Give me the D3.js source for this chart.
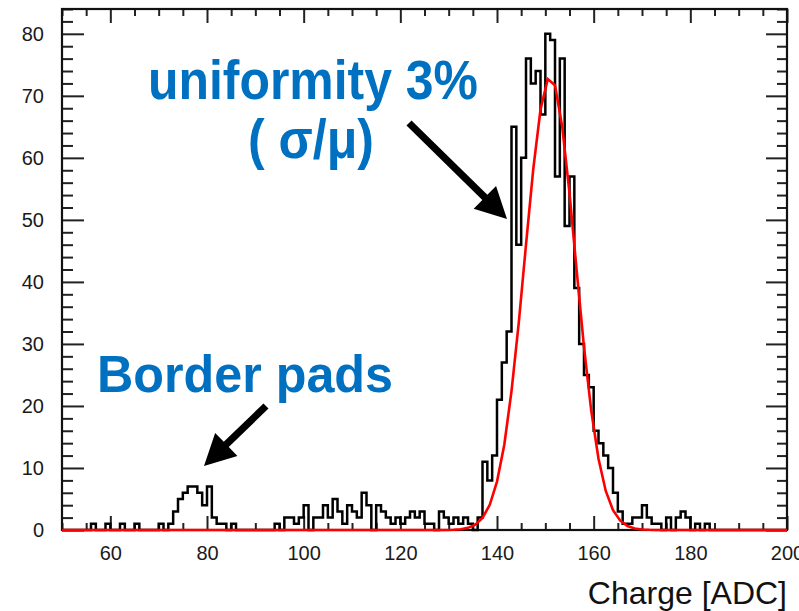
<!DOCTYPE html>
<html>
<head>
<meta charset="utf-8">
<script src="https://cdn.jsdelivr.net/npm/d3@7"></script>
<style>
  body { margin: 0; background: #fff; }
  svg { display: block; font-family: "Liberation Sans", Arial, Helvetica, sans-serif; }
</style>
</head>
<body>
<svg width="799" height="611"></svg>
<script>
// histogram, 1 ADC wide bins, first bin starts at 50
const binStart = 50;
const counts = [
  0, 0, 0, 0, 0, 0, 1, 0, 0, 1,          // 50-59
  0, 0, 1, 0, 0, 1, 0, 0, 0, 0,          // 60-69
  1, 0, 1, 3, 5, 6, 7, 7, 6, 4,          // 70-79
  7, 2, 1, 1, 0, 1, 0, 0, 0, 0,          // 80-89
  0, 0, 0, 0, 1, 0, 2, 2, 1, 2,          // 90-99
  4, 0, 2, 2, 4, 2, 5, 3, 1, 4,          // 100-109
  3, 2, 6, 4, 0, 4, 3, 2, 1, 2,          // 110-119
  1, 2, 3, 2, 3, 1, 1, 0, 3, 2,          // 120-129
  1, 2, 1, 2, 1, 0, 2, 11, 8, 12,        // 130-139
  21, 27, 32, 65, 46, 60, 76, 72, 74, 67, // 140-149
  80, 79, 57, 76, 49, 57, 39, 30, 25, 23, // 150-159
  16, 14, 12, 10, 6, 3, 1, 1, 2, 2,      // 160-169
  4, 2, 1, 1, 0, 2, 0, 2, 3, 2,          // 170-179
  0, 1, 0, 1, 0, 0, 0, 0, 0, 0,          // 180-189
  0, 0, 0, 0, 0, 0, 0, 0, 0, 0           // 190-199
];

// gaussian fit curve as drawn (red)
const fitX = [50, 128, 129.5, 131, 132.5, 134, 135.5, 137, 138.5, 140, 141.5, 143, 144.5, 146, 147.5,
  149, 150.5, 152, 153.5, 155, 156.5, 158, 159.5, 161, 162.5, 164, 165.5, 167, 168.5, 170, 171.5, 173, 200];
const fitY = [0, 0, 0.01, 0.04, 0.13, 0.35, 0.86, 1.95, 4.06, 7.8, 13.7, 22.4, 33.4, 46.0, 58.2,
  67.8, 72.7, 71.7, 65.0, 54.3, 41.7, 29.5, 19.2, 11.5, 6.3, 3.2, 1.5, 0.64, 0.25, 0.09, 0.03, 0, 0];

// axis ticks
const xMajorTicks = [60, 80, 100, 120, 140, 160, 180, 200];
const xMinorTicks = [50, 55, 65, 70, 75, 85, 90, 95, 105, 110, 115, 125, 130, 135, 145, 150, 155, 165, 170, 175, 185, 190, 195];
const yMajorTicks = [0, 10, 20, 30, 40, 50, 60, 70, 80];
const yMinorTicks = d3.range(0, 85, 2).filter(v => v % 10 !== 0);

const xTitle = "Charge [ADC]";
const notes = [
  { text: "uniformity 3%", x: 148, y: 99, size: 55, len: 330 },
  { text: "( σ/μ)", x: 248, y: 158, size: 55, len: 126 },
  { text: "Border pads", x: 97, y: 392, size: 52, len: 296 }
];
const arrows = [
  { from: [409, 123], to: [507, 219] },
  { from: [266, 406], to: [204, 466] }
];

const plot = { left: 62, right: 787, top: 9, bottom: 530 };

const svg = d3.select("svg");

const x = d3.scaleLinear().domain([50, 200]).range([plot.left, plot.right]);
const y = d3.scaleLinear().domain([0, 84]).range([plot.bottom, plot.top]);

// ticks on all four sides, pointing in
function ticks(axis, tr) {
  const g = svg.append("g").attr("transform", tr).call(axis);
  g.select(".domain").remove();
  g.selectAll(".tick line").attr("stroke", "#222").attr("stroke-width", 2);
  g.selectAll(".tick text").attr("fill", "#1a1a1a").style("font-size", "20px");
  return g;
}

ticks(d3.axisBottom(x).tickValues(xMajorTicks).tickSize(-14).tickPadding(16).tickFormat(d3.format("d")),
  `translate(0,${plot.bottom})`);
ticks(d3.axisBottom(x).tickValues(xMinorTicks).tickSize(-7).tickFormat(""), `translate(0,${plot.bottom})`);
ticks(d3.axisTop(x).tickValues(xMajorTicks).tickSize(-14).tickFormat(""), `translate(0,${plot.top})`);
ticks(d3.axisTop(x).tickValues(xMinorTicks).tickSize(-7).tickFormat(""), `translate(0,${plot.top})`);

ticks(d3.axisLeft(y).tickValues(yMajorTicks).tickSize(-22).tickPadding(18).tickFormat(d3.format("d")),
  `translate(${plot.left},0)`);
ticks(d3.axisLeft(y).tickValues(yMinorTicks).tickSize(-11).tickFormat(""), `translate(${plot.left},0)`);
ticks(d3.axisRight(y).tickValues(yMajorTicks).tickSize(-21).tickFormat(""), `translate(${plot.right},0)`);
ticks(d3.axisRight(y).tickValues(yMinorTicks).tickSize(-10).tickFormat(""), `translate(${plot.right},0)`);

// frame
svg.append("rect")
  .attr("x", plot.left).attr("y", plot.top)
  .attr("width", plot.right - plot.left).attr("height", plot.bottom - plot.top)
  .attr("fill", "none").attr("stroke", "#111").attr("stroke-width", 2.2);

// histogram outline
const steps = counts.map((c, i) => [binStart + i, c]);
steps.push([binStart + counts.length, counts[counts.length - 1]]);

svg.append("path")
  .datum(steps)
  .attr("fill", "none")
  .attr("stroke", "#000")
  .attr("stroke-width", 2.5)
  .attr("d", d3.line().x(d => x(d[0])).y(d => y(d[1])).curve(d3.curveStepAfter));

// fit
svg.append("path")
  .datum(fitX.map((v, i) => [v, fitY[i]]))
  .attr("fill", "none")
  .attr("stroke", "#ff0000")
  .attr("stroke-width", 2.6)
  .attr("d", d3.line().x(d => x(d[0])).y(d => y(d[1])));

// axis title
svg.append("text")
  .attr("x", plot.right).attr("y", 604)
  .attr("text-anchor", "end")
  .attr("fill", "#111")
  .style("font-size", "32px")
  .text(xTitle);

// blue annotations
svg.selectAll("text.note")
  .data(notes)
  .join("text")
  .attr("class", "note")
  .attr("x", d => d.x).attr("y", d => d.y)
  .attr("textLength", d => d.len)
  .attr("lengthAdjust", "spacingAndGlyphs")
  .attr("fill", "#0070c0")
  .style("font-size", d => d.size + "px")
  .style("font-weight", "bold")
  .text(d => d.text);

// arrows
function arrowPath(a) {
  const [x0, y0] = a.from, [x1, y1] = a.to;
  const len = Math.hypot(x1 - x0, y1 - y0);
  const ux = (x1 - x0) / len, uy = (y1 - y0) / len;
  const px = -uy, py = ux;
  const head = 31, hw = 16, sw = 3.6;
  const bx = x1 - ux * head, by = y1 - uy * head;
  const pts = [
    [x0 + px * sw, y0 + py * sw],
    [bx + px * sw, by + py * sw],
    [bx + px * hw, by + py * hw],
    [x1, y1],
    [bx - px * hw, by - py * hw],
    [bx - px * sw, by - py * sw],
    [x0 - px * sw, y0 - py * sw]
  ];
  return "M" + pts.map(p => p.join(",")).join("L") + "Z";
}

svg.selectAll("path.arrow")
  .data(arrows)
  .join("path")
  .attr("class", "arrow")
  .attr("fill", "#000")
  .attr("d", arrowPath);
</script>
</body>
</html>
